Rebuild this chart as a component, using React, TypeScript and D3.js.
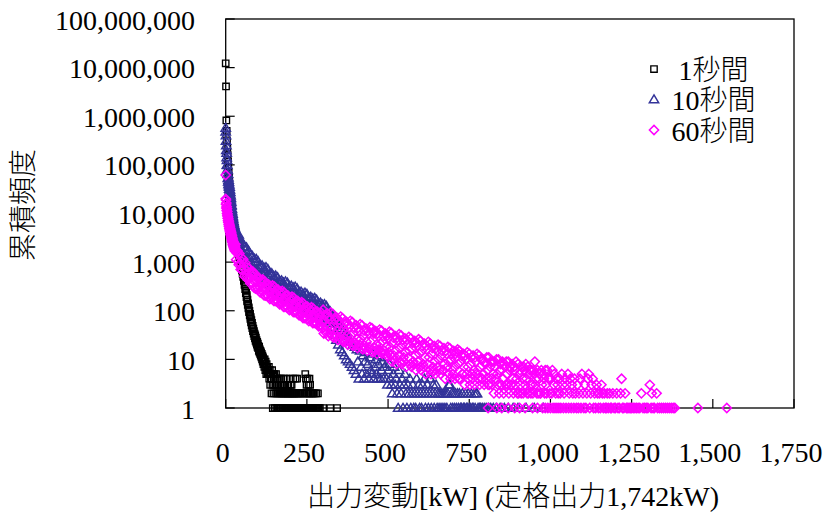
import React from "react";
import * as d3 from "d3";

// 出力変動 [kW] と 累積頻度 の組
// *Points: [kW, 頻度] の個別点, *Runs: [開始kW, 刻みkW, 頻度の並び]

const oneSecondPoints: [number, number][] = [
  [0,12300000],[1,4100000],[2,820000],[3,500000],[4,320000],[5,225000],[6,158000],[7,117000],[8,89000],[9,69000],
  [10,55000],[11,44000],[12,34000],[13,30000],[14,22000],[15,21500],[16,15000],[17,16000],[18,11000],[19,12500],
  [20,8500],[21,9500],[22,6600],[23,7500],[24,5600],[25,6300],[26,4600],[27,5200],[28,3900],[29,4500],
  [30,3200],[31,3800],[32,2700],[33,3300],[34,2300],[35,2800],[36,2000],[37,2300],[38,1700],[39,2000],
  [40,1450],[41,1700],[42,1250],[43,1450],[44,1050],[45,1250],[46,900],[47,1050],[48,780],[49,900],
  [50,680],[51,780],[52,580],[53,660],[54,500],[55,560],[56,410],[57,460],[58,340],[59,380],
  [60,280],[61,320],[62,230],[63,260],[64,190],[65,210],[66,155],[67,170],[68,132],[69,142],
  [70,112],[71,118],[72,94],[73,100],[74,80],[75,86],[76,68],[77,74],[78,58],[79,64],
  [80,50],[81,56],[82,44],[83,49],[84,38],[85,43],[86,34],[87,38],[88,30],[89,34],
  [90,27],[91,31],[92,24],[93,28],[94,22],[95,25],[96,20],[97,23],[98,18],[99,21],
  [100,17],[101,19],[102,15],[103,18],[104,14],[105,16],[106,13],[107,15],[108,12],[109,14],
  [110,11],[111,13],[112,10],[113,12],[114,9],[115,11],[116,8],[117,10],[118,9],[119,7],
  [120,10],[121,8],[122,6],[123,9],[124,7],[125,5],[126,8],[127,6],[128,7],[129,5],[130,6],
  [131,6],[132,5],[133,7],[134,4],[135,5],[136,6],[137,3],[138,5],[139,4],[140,5],[141,2],[142,4],[143,6],[144,3],
  [145,1],[146,5],[147,2],[148,4],[149,3],[150,5],[151,1],[152,4],[153,2],[154,3],[155,5],[156,1],[157,4],[158,2],
  [159,3],[160,1],[161,4],[162,2],[163,3],[164,1],[165,2],[166,4],[167,1],[168,3],[169,2],[170,1],[171,4],[172,2],
  [173,3],[174,1],[175,2],[176,1],[177,3],[178,2],[179,4],[180,1],[181,2],[182,3],[183,1],[184,2],[185,1],[186,4],
  [187,2],[188,1],[189,3],[190,2],[191,1],[192,2],[193,3],[194,1],[195,2],[196,1],[197,4],[198,2],[199,1],[200,3],
  [201,2],[202,1],[203,3],[204,2],[205,1],[206,2],[207,1],[208,4],[209,2],[210,1],[211,2],[212,1],[213,2],[214,1],
  [215,4],[216,1],[217,2],[218,1],[219,2],[220,4],[221,1],[223,2],[224,1],[226,2],[227,1],[229,1],[230,2],[232,1],
  [234,2],[235,1],[237,1],[238,2],[240,1],[242,2],[243,1],[245,5],[246,1],[247,4],[248,2],[249,3],[250,1],[251,2],
  [252,4],[253,1],[255,3],[256,2],[257,1],[258,4],[259,2],[260,3],[261,1],[262,2],[264,1],[266,2],[267,1],[269,1],
  [270,2],[272,1],[274,2],[275,1],[277,1],[279,2],[280,1],[282,1],[284,2],[285,1],[287,1],[290,1],[300,1],[322,1],[343,1],
];

const tenSecondsPoints: [number, number][] = [
  [0,575000],[0,480000],[1,400000],[1,310000],[2,250000],[2,200000],[3,175000],[3,142000],[4,125000],[4,100000],
  [5,98000],[5,80000],[6,78000],[6,64000],[7,65000],[7,53000],[8,55000],[8,45000],[9,49000],[9,40000],
  [10,44000],[10,36000],[11,39000],[11,32000],[12,35000],[12,28500],[13,31000],[13,25500],[14,27500],[14,22500],
  [15,23500],[15,19300],[16,20500],[16,16800],[17,17400],[17,14300],[18,14800],[18,12100],[19,12600],[19,10300],
  [20,11000],[20,9000],[21,9800],[21,8000],[22,8700],[22,7100],[23,7800],[23,6400],[24,6900],[24,5700],
  [25,6300],[25,5200],[26,5800],[26,4700],[27,5400],[27,4400],[28,5000],[28,4100],[29,4700],[29,3850],
  [30,4400],[30,3600],[31,4200],[31,3400],[32,4000],[32,3270],[33,3800],[33,3120],[34,3650],[34,2980],
  [35,3480],[35,2850],[36,3320],[36,2720],[37,3200],[37,2630],[38,3100],[38,2540],[39,3000],[39,2450],
  [329,40],[332,75],[335,32],[338,66],[341,25],[344,58],[347,20],
  [350,50],[353,16],[356,44],[359,14],[362,38],[365,12],[368,34],[371,10],[374,30],[377,9],
  [380,26],[383,8],[386,23],[389,7],[392,20],[395,6],[398,18],[401,5],[404,16],[407,9],
  [410,4],[414,15],[417,7],[420,5],[423,12],[426,4],[429,9],[432,14],[435,5],[438,8],
  [441,4],[444,11],[447,6],[450,5],[453,13],[456,4],[459,7],[462,10],[465,5],[468,4],
  [471,8],[474,12],[477,4],[480,6],[483,9],[486,4],[489,7],[492,11],[495,4],[498,3],
  [501,6],[504,8],[507,4],[510,3],[513,2],[516,5],[519,7],[522,3],[525,4],[528,2],
  [531,1],[534,6],[537,3],[540,2],[543,4],[546,1],[549,3],[552,5],[555,2],[558,1],
  [561,3],[564,2],[567,4],[570,1],[573,2],[576,3],[579,1],[582,2],[585,1],[588,4],
  [591,2],[594,3],[597,1],[600,2],[603,1],[606,3],[609,2],[612,4],[615,1],[618,2],
  [621,3],[624,1],[627,2],[630,4],[633,1],[636,2],[639,3],[642,1],[645,2],[648,3],
  [651,1],[654,2],[657,1],[660,2],[663,1],[666,2],[669,1],[672,2],[675,1],[678,2],
  [681,1],[684,2],[687,3],[690,3],[693,1],[696,2],[699,1],[702,2],[705,1],[708,2],
  [711,1],[714,2],[717,1],[720,2],[723,1],[726,1],[729,2],[732,1],[735,1],[738,2],
  [741,1],[744,1],[747,2],[750,1],[753,1],[756,2],[759,1],[762,1],[765,2],[768,1],
  [771,2],[774,2],[777,1],[781,1],[785,1],[790,1],[796,1],[802,1],[810,1],[816,1],
  [824,1],[833,1],[845,1],[858,1],[870,1],[885,1],[900,1],[925,1],[950,1],[978,1],
];

const tenSecondsRuns: [number, number, number[]][] = [
  [40, 2, [
    3680,1800,2480,2780,1670, 1460,2510,1600,1180,2080, 1740,1160,1990,1270,900,
    1720,855,1200,1380,850, 765,1340,865,650,1170, 1000,675,1160,750,536,
  ]],
  [100, 2, [
    1036,519,737,854,531, 484,852,555,422,766, 661,450,781,511,368, 718,360,511,591,368,
    335,587,382,288,521, 447,305,528,346,249, 486,246,352,410,258, 237,419,275,209,382,
    331,227,398,263,191, 377,190,272,319,200,
  ]],
  [200, 2, [
    184,327,215,165,302, 263,179,311,203,146, 286,144,207,241,152, 140,247,162,123,225,
    196,134,234,155,112, 221,112,161,188,118, 109,193,127,97,178, 155,106,183,120,86,
    168,85,122,143,90, 83,146,95,73,133,
  ]],
  [300, 2, [
    115,78,136,88,64, 125,62,87,100,62, 56,96,61,46,82,
  ]],
];

const sixtySecondsPoints: [number, number][] = [
  [0,62000],[0,20000],[1,19000],[1,15500],[2,16500],[2,13000],[3,14000],[3,11500],[4,12500],[4,10000],
  [5,11000],[5,9000],[6,9800],[6,8000],[7,8700],[7,7100],[8,8000],[8,6500],[9,7300],[9,5900],
  [10,6700],[10,5400],[11,6100],[11,4900],[12,5700],[12,4600],[13,5300],[13,4300],[14,4900],[14,4000],
  [15,4600],[15,3700],[16,4300],[16,3500],[17,4000],[17,3300],[18,3750],[18,3050],[19,3500],[19,2850],
  [20,3250],[20,2650],[21,3050],[21,2500],[22,2850],[22,2300],[23,2700],[23,2200],[24,2600],[24,2100],
  [25,2450],[25,2000],[26,2350],[26,1900],[27,2250],[27,1850],[28,2150],[28,1750],[29,2050],[29,1680],
  [808,1],[835,1],[850,1],[870,1],[890,1],[905,1],[922,1],[945,1],[960,1],[984,1],
  [1000,1],[1002,4],[1004,2],[1006,6],[1008,1],[1010,3],[1012,5],[1014,1],[1016,2],[1018,4],
  [1020,1],[1022,3],[1024,2],[1026,1],[1028,4],[1030,2],[1032,1],[1035,5],[1038,3],[1040,1],
  [1042,2],[1045,4],[1048,1],[1050,3],[1054,5],[1056,1],[1058,2],[1061,4],[1064,1],[1066,3],
  [1069,2],[1072,1],[1074,4],[1077,2],[1080,1],[1083,3],[1086,1],[1088,2],[1091,4],[1094,1],
  [1097,5],[1100,2],[1103,1],[1106,3],[1109,1],[1112,2],[1115,4],[1118,5],[1121,1],[1124,2],
  [1127,3],[1130,4],[1133,1],[1136,2],[1139,1],[1142,3],[1145,2],[1148,1],[1151,2],[1154,1],
  [1157,3],[1160,2],[1163,1],[1166,2],[1169,1],[1172,1],[1175,2],[1178,1],[1182,2],[1185,1],
  [1188,1],[1192,2],[1196,1],[1200,1],[1204,2],[1208,1],[1212,1],[1216,2],[1219,4],[1222,1],
  [1226,1],[1230,2],[1234,1],[1238,1],[1242,1],[1246,1],[1250,1],[1255,1],[1260,1],[1265,1],
  [1270,1],[1275,1],[1280,2],[1285,1],[1290,1],[1295,1],[1300,1],[1306,3],[1310,1],[1312,2],
  [1316,1],[1320,1],[1327,2],[1330,1],[1336,1],[1342,1],[1348,1],[1354,1],[1360,1],[1366,1],
  [1372,1],[1378,1],[1383,1],[1454,1],[1543,1],
];

const sixtySecondsRuns: [number, number, number[]][] = [
  [30, 2, [
    2324,1125,1539,1711,1018, 881,1509,955,704,1232, 1025,681,1152,733,512, 969,482,677,778,478,
    431,751,483,362,647, 551,372,639,414,295, 570,287,408,476,298,
  ]],
  [100, 2, [
    272,479,312,238,432, 373,254,440,287,207, 403,204,292,341,214, 197,348,229,174,319,
    276,190,332,219,159, 314,158,227,265,166, 153,270,177,135,247, 214,146,256,167,121,
    238,120,172,201,126, 116,205,134,103,187,
  ]],
  [200, 2, [
    162,111,195,129,94, 185,94,133,156,98, 90,159,104,80,146, 127,86,151,99,71,
    140,71,101,119,74, 68,122,80,61,112, 98,67,118,77,56, 111,56,80,94,58,
    54,96,63,48,87, 76,52,91,59,43,
  ]],
  [300, 2, [
    105,34,64,81,40, 35,88,46,30,75, 68,35,92,45,30, 86,28,53,66,33,
    29,72,38,25,64, 56,29,76,37,25, 70,23,43,53,27, 23,59,31,20,52,
    46,24,62,31,20, 58,19,36,45,22,
  ]],
  [400, 2, [
    20,50,26,17,44, 39,20,53,26,17, 50,16,31,39,19, 17,43,23,15,38,
    34,18,46,23,15, 44,14,37,34,17, 15,38,20,13,34, 30,16,41,21,14,
    39,13,24,30,15, 13,34,18,12,31,
  ]],
  [500, 2, [
    27,14,37,18,12, 35,9,22,28,12, 10,30,15,8,28, 24,12,33,17,9,
    31,8,20,25,11, 9,27,14,7,25, 21,11,29,15,8, 27,7,17,22,9,
    8,24,12,6,22, 19,9,26,13,7,
  ]],
  [600, 2, [
    24,6,15,19,8, 7,21,11,5,19, 16,8,23,11,6, 21,5,13,17,7,
    6,19,9,5,17, 15,7,20,10,6, 19,5,12,15,6, 6,17,8,4,15,
    13,7,18,9,5, 17,4,10,13,6,
  ]],
  [700, 2, [
    5,15,7,4,13, 11,14,16,8,4, 15,4,9,12,5, 5,13,7,3,12,
    10,5,14,7,4, 13,3,8,11,5, 4,12,6,3,11, 9,5,13,6,4,
    12,3,7,10,4, 4,10,5,3,9,
  ]],
  [800, 2, [
    8,4,11,6,3, 11,3,7,9,4, 3,9,5,2,9, 7,4,10,5,3,
    10,2,6,8,3, 3,9,4,2,8, 7,3,9,5,3, 9,2,6,7,3,
    3,8,4,2,7, 6,3,9,4,2,
  ]],
  [900, 2, [
    8,2,5,6,3, 2,7,4,2,7, 6,3,8,4,2, 7,2,5,6,3,
    2,6,3,2,6, 5,9,3,4,2, 6,2,4,5,2, 2,6,3,1,5,
    4,2,6,3,2, 6,1,4,4,2,
  ]],
];

const seriesNames = ["1秒間", "10秒間", "60秒間"];
const seriesColors = ["#000000", "#333399", "#FF00FF"];
const xTicks = [0, 250, 500, 750, 1000, 1250, 1500, 1750];
const yTicks = [1, 10, 100, 1000, 10000, 100000, 1000000, 10000000, 100000000];
const xTitle = "出力変動[kW] (定格出力1,742kW)";
const yTitle = "累積頻度";

const W = 824;
const H = 513;
const plot = { left: 225.7, top: 19, right: 794, bottom: 408 };
const FONT = "'Liberation Serif', 'Times New Roman', 'Noto Sans CJK JP', serif";

const markerPaths = [
  "M-3.2,-3.2H3.2V3.2H-3.2Z",
  "M0,-4.6L4.7,3.3L-4.7,3.3Z",
  "M0,-4.6L4.6,0L0,4.6L-4.6,0Z",
];
const markerStroke = [1.35, 1.45, 1.5];

function expandRuns(runs: [number, number, number[]][]): [number, number][] {
  return runs.flatMap(([start, step, counts]) =>
    counts.map((c, i) => [start + i * step, c] as [number, number])
  );
}

export default function App() {
  const x = d3.scaleLinear().domain([0, 1750]).range([plot.left, plot.right]);
  const y = d3.scaleLog().domain([1, 1e8]).range([plot.bottom, plot.top]);
  const fmt = d3.format(",");
  const data: [number, number][][] = [
    oneSecondPoints,
    [...tenSecondsPoints, ...expandRuns(tenSecondsRuns)],
    [...sixtySecondsPoints, ...expandRuns(sixtySecondsRuns)],
  ];

  return (
    <svg
      width={W}
      height={H}
      style={{ position: "fixed", left: 0, top: 0, background: "#fff" }}
      fontFamily={FONT}
      fontWeight={300}
    >
      <rect x={0} y={0} width={W} height={H} fill="#fff" />

      {/* plot frame */}
      <rect
        x={plot.left}
        y={plot.top}
        width={plot.right - plot.left}
        height={plot.bottom - plot.top}
        fill="none"
        stroke="#000"
        strokeWidth={1.3}
      />

      {/* y ticks (inside) and labels */}
      {yTicks.map((t) => (
        <g key={"y" + t}>
          <line x1={plot.left} x2={plot.left + 9} y1={y(t)} y2={y(t)} stroke="#000" strokeWidth={1.2} />
          <text x={195} y={y(t) + 1} fontSize={28} textAnchor="end" dominantBaseline="central" fill="#000">
            {fmt(t)}
          </text>
        </g>
      ))}

      {/* x ticks (inside) and labels */}
      {xTicks.map((t) => (
        <g key={"x" + t}>
          <line x1={x(t)} x2={x(t)} y1={plot.bottom} y2={plot.bottom - 9} stroke="#000" strokeWidth={1.2} />
          <text x={x(t) - 3} y={462} fontSize={28} textAnchor="middle" fill="#000">
            {fmt(t)}
          </text>
        </g>
      ))}

      {/* series markers, drawn in legend order */}
      {data.map((pts, si) => (
        <g key={"s" + si} fill="none" stroke={seriesColors[si]} strokeWidth={markerStroke[si]}>
          {pts.map(([v, c], i) => (
            <path key={i} d={markerPaths[si]} transform={`translate(${x(v)},${y(c)})`} />
          ))}
        </g>
      ))}

      {/* legend */}
      {seriesNames.map((name, i) => {
        const ly = 69 + i * 30.5;
        return (
          <g key={"l" + i}>
            <path
              d={markerPaths[i]}
              transform={`translate(654,${ly})`}
              fill="none"
              stroke={seriesColors[i]}
              strokeWidth={markerStroke[i]}
            />
            <text x={713.5} y={ly + 1} fontSize={28} textAnchor="middle" dominantBaseline="central" fill="#000">
              {name}
            </text>
          </g>
        );
      })}

      {/* axis titles */}
      <text x={513} y={506} fontSize={28} textAnchor="middle" fill="#000">
        {xTitle}
      </text>
      <text
        transform={`translate(23,205) rotate(-90)`}
        fontSize={28}
        textAnchor="middle"
        dominantBaseline="central"
        fill="#000"
      >
        {yTitle}
      </text>
    </svg>
  );
}
